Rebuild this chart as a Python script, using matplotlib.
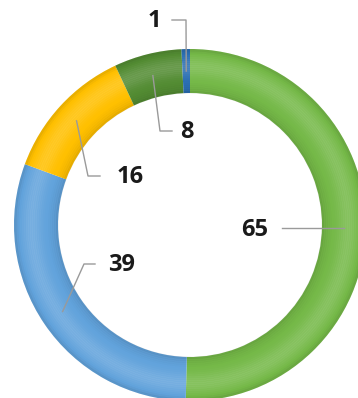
import numpy as np
import matplotlib.pyplot as plt
from matplotlib.patches import Wedge

values = [65, 39, 16, 8, 1]
labels = ['65', '39', '16', '8', '1']
colors = ['#75b948', '#62a3dc', '#ffc000', '#538c33', '#2b6fb3']

# ring geometry in pixel units (y measured from the top of the image)
W, H = 358, 398
cx, cy = 190, 225
r_out, ring_w = 176, 44

# label placement: text centre, elbow of the leader line, and where the line stops
label_pos = {'65': (255, 230), '39': (122, 265), '16': (130, 177), '8': (187, 132), '1': (154, 21)}
elbow_pos = {'65': None, '39': (84, 264), '16': (88, 176), '8': (160, 131), '1': (186, 20)}
line_end = {'65': (282, 228), '39': (95, 264), '16': (100, 176), '8': (172, 131), '1': (172, 20)}

fig = plt.figure(figsize=(W / 100, H / 100), dpi=100)
ax = fig.add_axes([0, 0, 1, 1])

center = (cx, H - cy)
wedges, _ = ax.pie(values, colors=colors, startangle=90, counterclock=False,
                   radius=r_out, center=center, frame=True,
                   wedgeprops=dict(width=ring_w, linewidth=0))

# smooth bevel: shade thin concentric strips, darker at the rims, lighter in the middle
n_strips = 22
step = ring_w / n_strips
for w in wedges:
    for i in range(n_strips):
        s = (i + 0.5) / n_strips          # 0 = outer rim, 1 = inner rim
        light = np.exp(-((s - 0.4) / 0.22) ** 2) * 0.13
        dark = (np.exp(-s / 0.08) + np.exp(-(1 - s) / 0.1)) * 0.12
        if light > dark:
            shade, a = 'white', light - dark
        else:
            shade, a = 'black', dark - light
        ax.add_patch(Wedge(center, r_out - i * step, w.theta1, w.theta2,
                           width=step + 0.3, facecolor=shade, alpha=a, linewidth=0))

ax.set_xlim(0, W)
ax.set_ylim(0, H)
ax.set_aspect('equal')
ax.axis('off')

r_mid = r_out - ring_w / 2
for w, lab in zip(wedges, labels):
    ang = np.deg2rad((w.theta1 + w.theta2) / 2)
    start = (cx + r_mid * np.cos(ang), H - (cy - r_mid * np.sin(ang)))
    end = (line_end[lab][0], H - line_end[lab][1])
    if elbow_pos[lab] is None:
        pts = [(start[0], end[1]), end]
    else:
        pts = [start, (elbow_pos[lab][0], H - elbow_pos[lab][1]), end]
    xs, ys = zip(*pts)
    ax.plot(xs, ys, color='#9a9a9a', linewidth=1)
    tx, ty = label_pos[lab]
    ax.text(tx, H - ty, lab, ha='center', va='center', fontsize=17,
            fontweight='bold', family='Open Sans', color='#1a1a1a')

fig.savefig('out.png', dpi=100)
